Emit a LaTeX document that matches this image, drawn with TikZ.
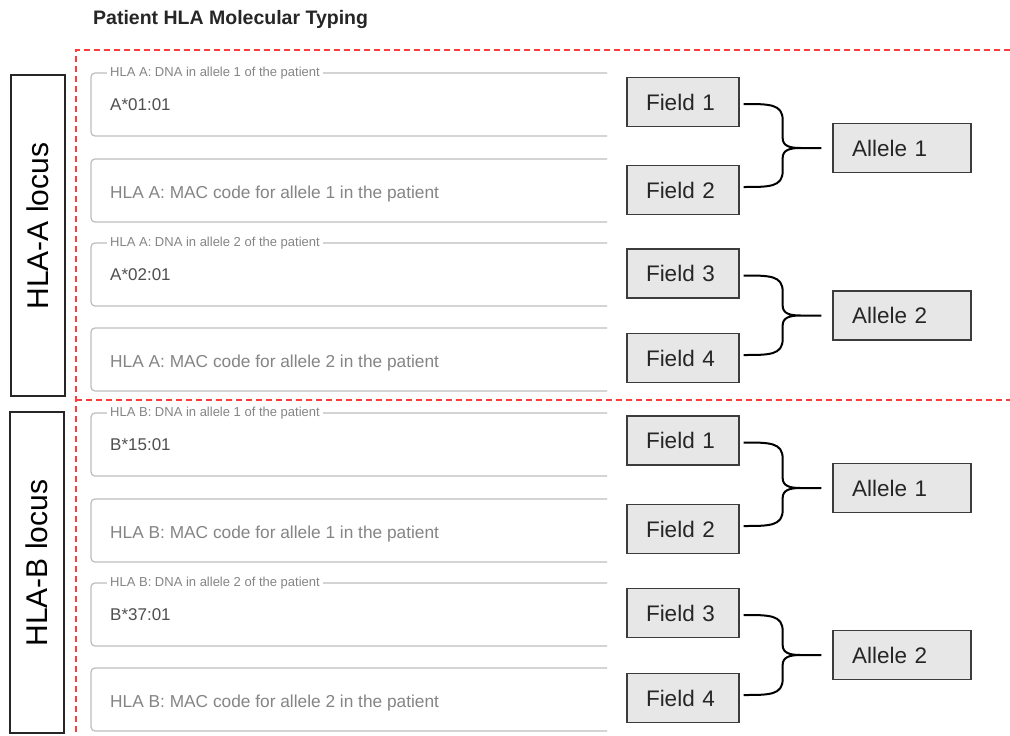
\documentclass[tikz,border=0pt]{standalone}
\usepackage{fontspec}
\setmainfont{Liberation Sans}
\usetikzlibrary{calc}
\definecolor{boxfill}{HTML}{E7E7E7}
\definecolor{boxline}{HTML}{3C3C3C}
\definecolor{fieldgrey}{HTML}{BDBDBD}
\definecolor{labelgrey}{HTML}{858585}
\definecolor{valuegrey}{HTML}{4F4F4F}
\definecolor{dashred}{HTML}{FF3B3B}
\newcommand\hlabrace[3]{%
  \draw[bracestyle] let \p1=(#1.east), \p2=(#2.east), \p3=(#3.west) in
   (\x1+4pt,\y1-2pt) .. controls (\x1+30pt,\y1-2pt) and (\x1+43pt,\y1-2pt) .. (\x1+43pt,\y1-18pt)
   -- (\x1+43pt,\y3+10pt) .. controls (\x1+43pt,\y3+2pt) and (\x1+50pt,\y3) .. (\x1+61pt,\y3)
   -- (\x3-11pt,\y3)
   (\x1+61pt,\y3) .. controls (\x1+50pt,\y3) and (\x1+43pt,\y3-2pt) .. (\x1+43pt,\y3-10pt)
   -- (\x2+43pt,\y2+19pt) .. controls (\x2+43pt,\y2+3pt) and (\x2+30pt,\y2+3pt) .. (\x2+4pt,\y2+3pt);
}
\newcommand\dnafield[4]{% name, top, label, value
  \draw[fieldline] (607,#2) -- (91,#2) -- (91,#2+63) -- (607,#2+63);
  \node[fieldlabel] (#1l) at (107,#2) {#3};
  \node[fieldvalue] (#1v) at (110,#2+32) {#4};
}
\newcommand\macfield[3]{% name, top, placeholder
  \draw[fieldline] (607,#2) -- (91,#2) -- (91,#2+63) -- (607,#2+63);
  \node[fieldph] (#1p) at (110,#2+35) {#3};
}
\begin{document}
\begin{tikzpicture}[x=1pt,y=-1pt,
  fieldline/.style={draw=fieldgrey, line width=1.2pt, rounded corners=4pt},
  fieldlabel/.style={anchor=west, fill=white, inner xsep=3pt, inner ysep=1pt, text=labelgrey, font=\fontsize{13}{14}\selectfont},
  fieldvalue/.style={anchor=west, inner sep=0pt, text=valuegrey, font=\fontsize{17}{19}\selectfont},
  fieldph/.style={anchor=west, inner sep=0pt, text=labelgrey, font=\fontsize{17.3}{19}\selectfont},
  partbox/.style={draw=boxline, fill=boxfill, line width=1.3pt, minimum height=49pt, inner xsep=19pt, inner ysep=0pt, align=left, font=\fontsize{22.5}{24}\selectfont, text=black!85},
  fieldbox/.style={partbox, text width=74pt},
  allelebox/.style={partbox, text width=100pt},
  locusbox/.style={draw=black!85, line width=1.3pt, minimum width=54pt, minimum height=321pt, inner sep=0pt},
  locustext/.style={rotate=90, inner sep=0pt, font=\fontsize{30}{32}\selectfont},
  redline/.style={draw=dashred, line width=1.2pt, dash pattern=on 6pt off 4pt},
  bracestyle/.style={draw=black, line width=2pt}]
\useasboundingbox (0,0) rectangle (1010,736);
\fill[white] (0,0) rectangle (1010,736);

\node[anchor=west, inner sep=0pt, font=\bfseries\fontsize{19.5}{21}\selectfont, text=black!85] (title) at (93,20) {Patient HLA Molecular Typing};

% red dashed frame
\draw[redline] (1010,50) -- (76,50) -- (76,736);
\draw[redline] (76,400) -- (1010,400);

% locus boxes
\node[locusbox] (locA) at (38,235.5) {};
\node[locustext] (locAt) at (38,226) {HLA-A locus};
\node[locusbox] (locB) at (37,572.5) {};
\node[locustext] (locBt) at (37,563) {HLA-B locus};

% input fields
\dnafield{fa}{73}{HLA A: DNA in allele 1 of the patient}{A*01:01}
\macfield{fb}{159}{HLA A: MAC code for allele 1 in the patient}
\dnafield{fc}{243}{HLA A: DNA in allele 2 of the patient}{A*02:01}
\macfield{fd}{328}{HLA A: MAC code for allele 2 in the patient}
\dnafield{fe}{413}{HLA B: DNA in allele 1 of the patient}{B*15:01}
\macfield{ff}{499}{HLA B: MAC code for allele 1 in the patient}
\dnafield{fg}{583}{HLA B: DNA in allele 2 of the patient}{B*37:01}
\macfield{fh}{668}{HLA B: MAC code for allele 2 in the patient}

% field / allele boxes
\node[fieldbox] (a1) at (683,102) {Field 1};
\node[fieldbox] (a2) at (683,190) {Field 2};
\node[allelebox] (aA1) at (902,148) {Allele 1};
\node[fieldbox] (a3) at (683,273.5) {Field 3};
\node[fieldbox] (a4) at (683,358) {Field 4};
\node[allelebox] (aA2) at (902,315.5) {Allele 2};
\node[fieldbox] (b1) at (683,440.5) {Field 1};
\node[fieldbox] (b2) at (683,529) {Field 2};
\node[allelebox] (bA1) at (902,488) {Allele 1};
\node[fieldbox] (b3) at (683,613) {Field 3};
\node[fieldbox] (b4) at (683,698) {Field 4};
\node[allelebox] (bA2) at (902,655) {Allele 2};

\hlabrace{a1}{a2}{aA1}
\hlabrace{a3}{a4}{aA2}
\hlabrace{b1}{b2}{bA1}
\hlabrace{b3}{b4}{bA2}
\end{tikzpicture}
\end{document}
